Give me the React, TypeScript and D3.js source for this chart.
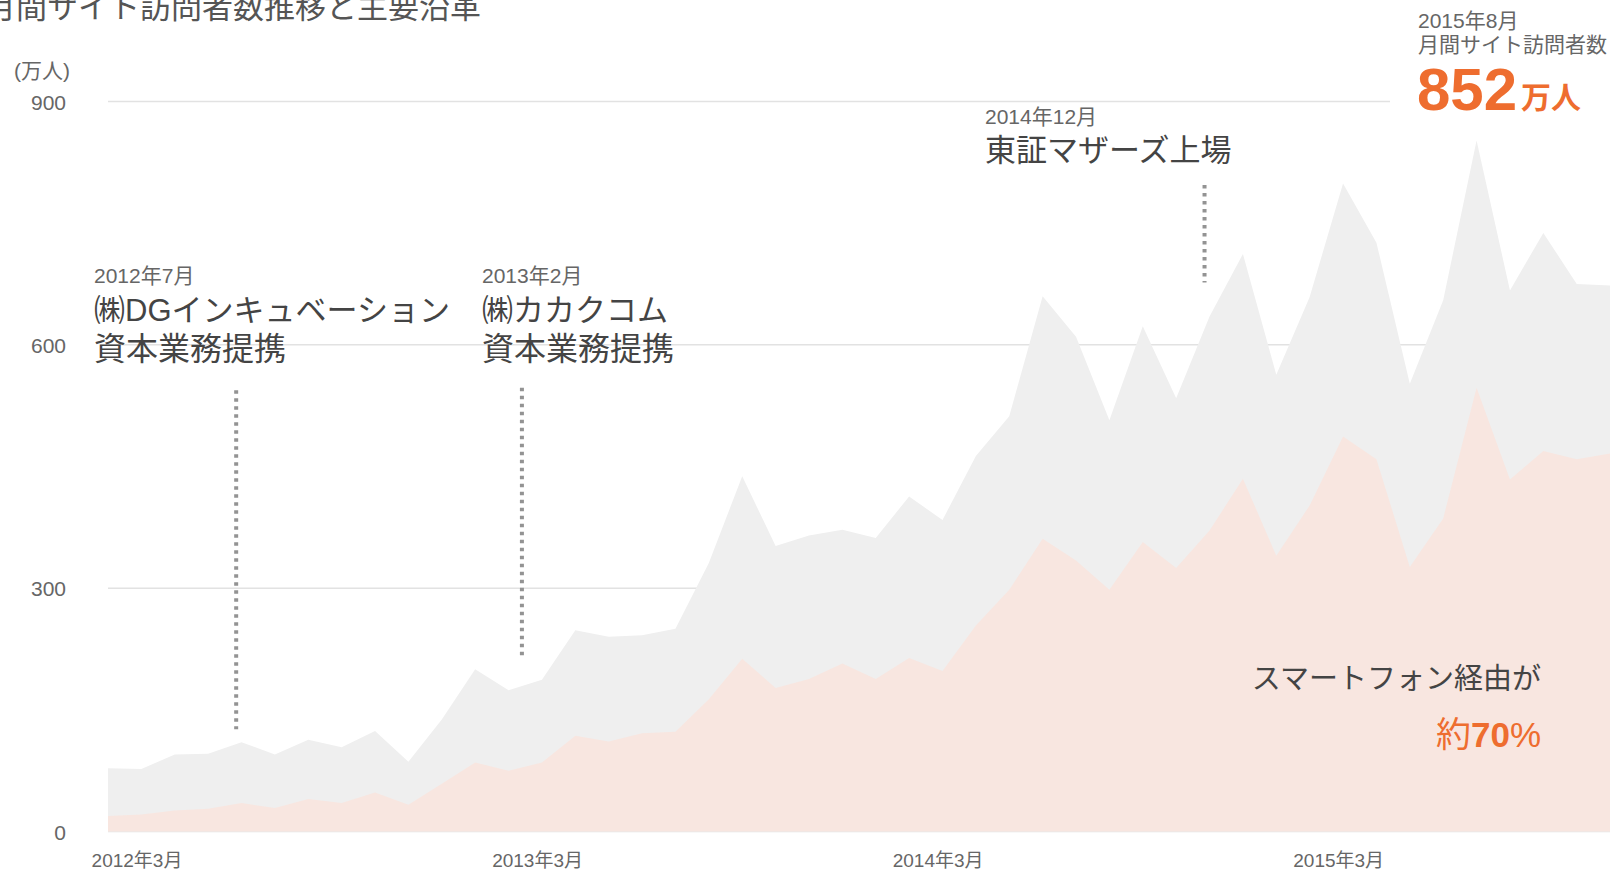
import React from "react";
import * as d3 from "d3";

// Months (2012年3月 .. 2016年1月)
const months: string[] = [
  "2012-03","2012-04","2012-05","2012-06","2012-07","2012-08","2012-09","2012-10","2012-11","2012-12",
  "2013-01","2013-02","2013-03","2013-04","2013-05","2013-06","2013-07","2013-08","2013-09","2013-10","2013-11","2013-12",
  "2014-01","2014-02","2014-03","2014-04","2014-05","2014-06","2014-07","2014-08","2014-09","2014-10","2014-11","2014-12",
  "2015-01","2015-02","2015-03","2015-04","2015-05","2015-06","2015-07","2015-08","2015-09","2015-10","2015-11","2015-12",
  "2016-01",
];

// Monthly site visitors, total (万人)
const totalVisitors: number[] = [
  78, 77, 95, 96, 110, 95, 113, 104, 124, 86,
  138, 200, 174, 187, 248, 240, 242, 250, 331, 438, 352, 365,
  372, 362, 413, 384, 463, 512, 660, 610, 507, 623, 534, 635,
  712, 563, 659, 799, 726, 552, 655, 852, 667, 738, 675, 673,
  673,
];

// Visitors via smartphone (万人)
const smartphoneVisitors: number[] = [
  19, 21, 26, 28, 35, 29, 40, 35, 48, 33,
  59, 85, 75, 85, 118, 111, 121, 123, 163, 213, 177, 188,
  207, 188, 214, 198, 254, 298, 361, 334, 298, 357, 325, 371,
  435, 340, 402, 487, 459, 326, 386, 547, 434, 469, 459, 466,
  466,
];

const yTicks: number[] = [0, 300, 600, 900];
const xTickIndex: number[] = [0, 12, 24, 36];
const xTickLabels: string[] = ["2012年3月", "2013年3月", "2014年3月", "2015年3月"];

// Milestones: month position on the x axis, and dotted leader extent (in 万人 units)
const milestoneDates: string[] = ["2012年7月", "2013年2月", "2014年12月"];
const milestoneLines1: string[] = ["㈱DGインキュベーション", "㈱カカクコム", "東証マザーズ上場"];
const milestoneLines2: string[] = ["資本業務提携", "資本業務提携", ""];
const milestonePos: number[] = [3.84, 12.4, 32.85];
const milestoneTop: number[] = [544, 547, 797];
const milestoneBottom: number[] = [126, 217, 677];

const FONT = "'Liberation Sans', 'Noto Sans CJK JP', sans-serif";
const ORANGE = "#ee6d2f";

export default function App() {
  const W = 1610;
  const H = 872;
  const x = d3.scaleLinear().domain([0, 45]).range([108, 108 + 45 * 33.38]);
  const y = d3.scaleLinear().domain([0, 900]).range([831.5, 101.5]);

  const area = d3
    .area<number>()
    .x((_, i) => x(i))
    .y0(y(0))
    .y1((d) => y(d));

  const textPos = [
    { x: 94, yDate: 283, y1: 321, y2: 360 },
    { x: 482, yDate: 283, y1: 321, y2: 360 },
    { x: 985, yDate: 124, y1: 161, y2: 200 },
  ];

  return (
    <svg
      width={W}
      height={H}
      style={{ position: "absolute", left: 0, top: 0, display: "block" }}
      fontFamily={FONT}
    >
      <rect x={0} y={0} width={W} height={H} fill="#ffffff" />

      {/* gridlines */}
      {yTicks.map((t) => (
        <line
          key={"g" + t}
          x1={x(0)}
          x2={W}
          y1={y(t)}
          y2={y(t)}
          stroke="#e2e2e2"
          strokeWidth={1.5}
        />
      ))}
      {/* background behind top-right callout */}
      <rect x={1390} y={0} width={W - 1390} height={125} fill="#ffffff" />

      {/* areas */}
      <path d={area(totalVisitors) ?? ""} fill="#efefef" />
      <path d={area(smartphoneVisitors) ?? ""} fill="#f8e6e0" />

      {/* title */}
      <text x={-15} y={18} fontSize={31} fill="#555">
        月間サイト訪問者数推移と主要沿革
      </text>

      {/* y axis */}
      <text x={70} y={78} fontSize={21} fill="#666" textAnchor="end">
        (万人)
      </text>
      {yTicks.map((t) => (
        <text key={"yl" + t} x={66} y={y(t) + 8} fontSize={21} fill="#666" textAnchor="end">
          {t}
        </text>
      ))}

      {/* x axis labels */}
      {xTickIndex.map((m, i) => (
        <text key={"xl" + m} x={x(m) + 29} y={867} fontSize={19} fill="#666" textAnchor="middle">
          {xTickLabels[i]}
        </text>
      ))}

      {/* milestones */}
      {milestonePos.map((p, i) => (
        <line
          key={"ml" + i}
          x1={x(p)}
          x2={x(p)}
          y1={y(milestoneTop[i])}
          y2={y(milestoneBottom[i])}
          stroke="#939393"
          strokeWidth={4}
          strokeDasharray="3.5 4.5"
        />
      ))}
      {milestoneDates.map((d, i) => (
        <g key={"mt" + i}>
          <text x={textPos[i].x} y={textPos[i].yDate} fontSize={21} fill="#666">
            {d}
          </text>
          <text x={textPos[i].x} y={textPos[i].y1} fontSize={31} fill="#444">
            {milestoneLines1[i]}
          </text>
          {milestoneLines2[i] && (
            <text x={textPos[i].x} y={textPos[i].y2} fontSize={32} fill="#444">
              {milestoneLines2[i]}
            </text>
          )}
        </g>
      ))}

      {/* top-right callout */}
      <text x={1418} y={28} fontSize={21} fill="#666">
        2015年8月
      </text>
      <text x={1418} y={52} fontSize={21} fill="#666">
        月間サイト訪問者数
      </text>
      <text x={1417} y={110} fill={ORANGE} fontWeight="bold">
        <tspan fontSize={60}>852</tspan>
        <tspan fontSize={30} dx={4} dy={-2}>万人</tspan>
      </text>

      {/* smartphone share callout */}
      <text x={1541} y={689} fontSize={29} fill="#444" textAnchor="end">
        スマートフォン経由が
      </text>
      <text x={1541} y={747} fill={ORANGE} textAnchor="end">
        <tspan fontSize={35}>約</tspan>
        <tspan fontSize={35} fontWeight="bold">70</tspan>
        <tspan fontSize={35}>%</tspan>
      </text>
    </svg>
  );
}
